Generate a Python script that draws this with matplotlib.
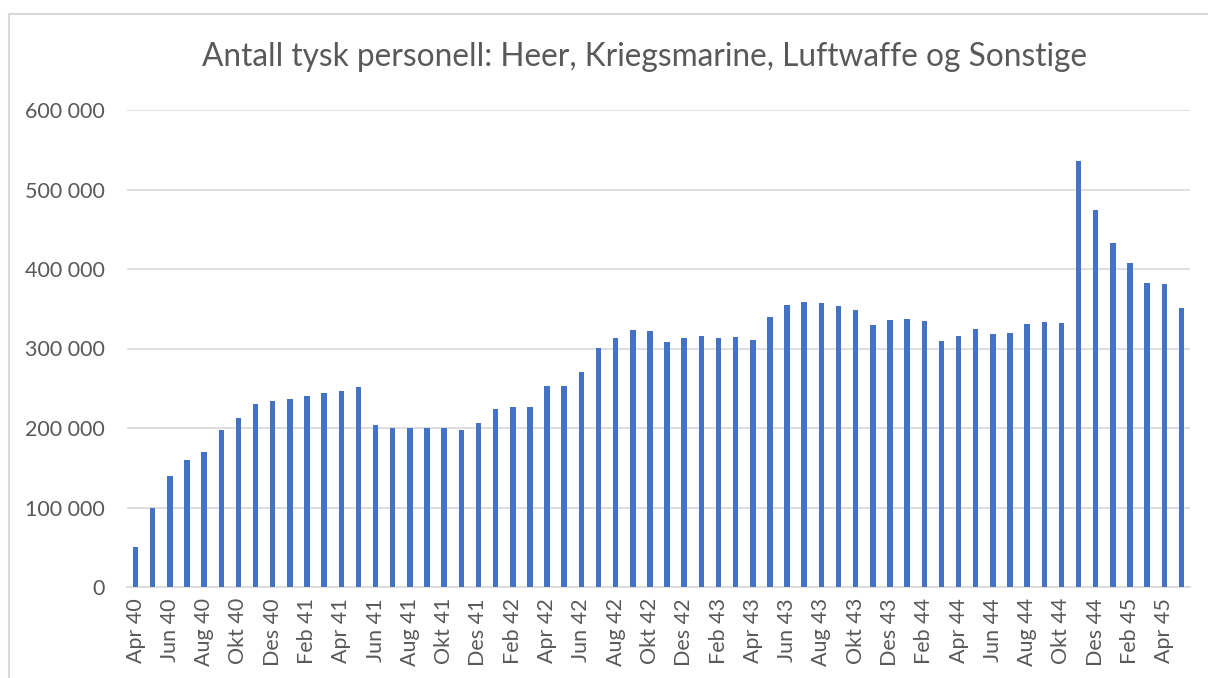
import matplotlib.pyplot as plt
from matplotlib.lines import Line2D
from matplotlib.ticker import FuncFormatter

# month labels Apr 40 .. Mai 45 (Norwegian abbreviations)
month_names = ["Jan", "Feb", "Mar", "Apr", "Mai", "Jun", "Jul", "Aug", "Sep", "Okt", "Nov", "Des"]
years = [40, 41, 42, 43, 44, 45]

personell = [
    50000, 100000, 140000, 160000, 170000, 197000, 212000, 230000, 234000, 236000,
    240000, 244000, 247000, 252000, 204000, 200000, 200000, 200000, 200000, 197000,
    206000, 224000, 226000, 226000, 253000, 253000, 271000, 301000, 313000, 323000,
    322000, 308000, 313000, 316000, 313000, 315000, 311000, 339000, 355000, 358000,
    357000, 353000, 349000, 330000, 336000, 337000, 335000, 310000, 316000, 324000,
    318000, 320000, 331000, 333000, 332000, 536000, 474000, 433000, 408000, 382000,
    381000, 351000,
]

labels = []
for y in years:
    for m in month_names:
        labels.append(f"{m} {y}")
labels = labels[3:3 + len(personell)]

text_col = "#595959"
grid_col = "#d9d9d9"
bar_col = "#4472c4"
font = ["Lato", "DejaVu Sans"]
plt.rcParams["font.family"] = font

fig = plt.figure(figsize=(12.08, 6.78), dpi=100)
W, H = 1208, 678
ax = fig.add_axes([127 / W, 1 - 587 / H, (1190 - 127) / W, (587 - 110) / H])

x = list(range(len(personell)))
ax.bar(x, personell, width=0.32, color=bar_col, zorder=3)

ax.set_xlim(-0.5, len(personell) - 0.5)
ax.set_ylim(0, 600000)
ax.set_yticks(range(0, 600001, 100000))
ax.yaxis.set_major_formatter(FuncFormatter(lambda v, p: f"{int(v):,}".replace(",", " ")))
ax.set_xticks(x[::2])
ax.set_xticklabels(labels[::2], rotation=90)

ax.grid(axis="y", color=grid_col, linewidth=1.2, zorder=0)
for s in ["top", "right", "left"]:
    ax.spines[s].set_visible(False)
ax.spines["bottom"].set_color(grid_col)
ax.spines["bottom"].set_linewidth(1.2)
ax.tick_params(length=0, colors=text_col, labelsize=15.5)
ax.tick_params(axis="y", pad=16)
ax.tick_params(axis="x", pad=8)

fig.text(645 / W, 1 - 57 / H, "Antall tysk personell: Heer, Kriegsmarine, Luftwaffe og Sonstige",
         ha="center", va="center", fontsize=22.8, color=text_col)

# chart frame (top and left edges visible)
fig.add_artist(Line2D([9 / W, 9 / W], [0, 1 - 14 / H], transform=fig.transFigure, color=grid_col, lw=1.5))
fig.add_artist(Line2D([9 / W, 1], [1 - 14 / H, 1 - 14 / H], transform=fig.transFigure, color=grid_col, lw=1.5))

fig.savefig("out.png", dpi=100)
